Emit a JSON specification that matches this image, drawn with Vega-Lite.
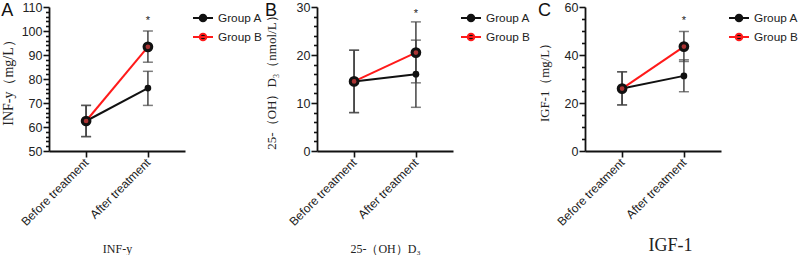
{
  "$schema": "https://vega.github.io/schema/vega-lite/v6.json",
  "padding": {"left": 1, "top": 1, "right": 0, "bottom": 0},
  "background": "white",
  "config": {
    "view": {"stroke": null},
    "axis": {"grid": false, "ticks": true, "domainColor": "#111", "domainWidth": 1.8, "labelFont": "Liberation Sans", "labelFontSize": 12.5, "labelColor": "#222", "titleFont": "Liberation Serif", "titleFontWeight": "normal", "titleFontSize": 14, "titleColor": "#222"},
    "title": {"font": "Liberation Sans", "fontSize": 18, "fontWeight": "normal", "color": "#111", "anchor": "start", "frame": "bounds"},
    "legend": {"orient": "none", "legendX": 143, "legendY": 0, "title": null, "symbolType": "M-1,0H1M0.33,0A0.33,0.33,0,1,1,-0.33,0A0.33,0.33,0,1,1,0.33,0Z", "symbolSize": 400, "symbolStrokeWidth": 2, "labelFont": "Liberation Sans", "labelFontSize": 11.8, "labelColor": "#222", "rowPadding": 0, "labelOffset": 4}
  },
  "datasets": {
    "stats": [
      {"panel": "A", "group": "Group A", "time": "Before treatment", "mean": 62.5, "lo": 56, "hi": 69},
      {"panel": "A", "group": "Group A", "time": "After treatment", "mean": 76.2, "lo": 69, "hi": 83.2},
      {"panel": "A", "group": "Group B", "time": "Before treatment", "mean": 62.5, "lo": 56, "hi": 69},
      {"panel": "A", "group": "Group B", "time": "After treatment", "mean": 93.4, "lo": 87, "hi": 100},
      {"panel": "B", "group": "Group A", "time": "Before treatment", "mean": 14.5, "lo": 8, "hi": 21},
      {"panel": "B", "group": "Group A", "time": "After treatment", "mean": 16, "lo": 9.1, "hi": 23.1},
      {"panel": "B", "group": "Group B", "time": "Before treatment", "mean": 14.5, "lo": 8, "hi": 21},
      {"panel": "B", "group": "Group B", "time": "After treatment", "mean": 20.5, "lo": 14.2, "hi": 26.9},
      {"panel": "C", "group": "Group A", "time": "Before treatment", "mean": 26, "lo": 19.2, "hi": 33},
      {"panel": "C", "group": "Group A", "time": "After treatment", "mean": 31.3, "lo": 24.7, "hi": 38},
      {"panel": "C", "group": "Group B", "time": "Before treatment", "mean": 26, "lo": 19.2, "hi": 33},
      {"panel": "C", "group": "Group B", "time": "After treatment", "mean": 43.5, "lo": 37.3, "hi": 49.8}
    ],
    "stars": [
      {"panel": "A", "time": "After treatment", "y": 104.3, "label": "*"},
      {"panel": "B", "time": "After treatment", "y": 28.6, "label": "*"},
      {"panel": "C", "time": "After treatment", "y": 54.3, "label": "*"}
    ]
  },
  "resolve": {"scale": {"color": "independent", "y": "independent", "x": "independent"}, "legend": {"color": "independent"}},
  "bounds": "flush",
  "spacing": 132,
  "hconcat": [
    {
      "width": 136, "height": 144,
      "title": {"text": "A", "baseline": "top", "offset": -19},
      "data": {"name": "stats"},
      "transform": [{"filter": "datum.panel === 'A'"}],
      "encoding": {
        "x": {"field": "time", "type": "ordinal", "sort": ["Before treatment", "After treatment"], "scale": {"type": "point", "padding": 0.6}, "axis": {"title": "INF-y", "labelAngle": -45, "labelAlign": "right", "labelBaseline": "middle", "labelFontSize": 12, "tickSize": 6, "tickColor": "#111", "tickWidth": 1.6, "labelPadding": 3, "titlePadding": 16, "titleFontSize": 12}}
      },
      "layer": [
        {"mark": {"type": "rule", "color": "#444", "strokeWidth": 1.5}, "encoding": {"y": {"field": "lo", "type": "quantitative", "scale": {"domain": [50, 110], "zero": false, "nice": false}, "axis": {"title": "INF-y（mg/L）", "tickCount": 30, "labelOverlap": false, "labelExpr": "datum.value % 10 === 0 ? datum.label : ''", "tickSize": {"condition": {"test": "datum.value % 10 === 0", "value": 6}, "value": 3.5}, "tickColor": "#111", "tickWidth": 1.6, "labelPadding": 1, "titlePadding": 6}}, "y2": {"field": "hi"}}},
        {"mark": {"type": "tick", "color": "#444", "thickness": 1.5, "size": 10}, "encoding": {"y": {"field": "lo", "type": "quantitative"}}},
        {"mark": {"type": "tick", "color": "#444", "thickness": 1.5, "size": 10}, "encoding": {"y": {"field": "hi", "type": "quantitative"}}},
        {"mark": {"type": "line", "strokeWidth": 2}, "encoding": {"y": {"field": "mean", "type": "quantitative"}, "color": {"field": "group", "type": "nominal", "scale": {"domain": ["Group A", "Group B"], "range": ["#111", "#ff1a1a"]}, "legend": {"symbolFillColor": "#111"}}}},
        {"transform": [{"filter": "datum.group === 'Group A'"}], "mark": {"type": "point", "filled": true, "color": "#111", "size": 45, "opacity": 1}, "encoding": {"y": {"field": "mean", "type": "quantitative"}}},
        {"transform": [{"filter": "datum.group === 'Group B'"}], "mark": {"type": "point", "filled": true, "fill": "#a33", "stroke": "#111", "strokeWidth": 3, "size": 60, "opacity": 1}, "encoding": {"y": {"field": "mean", "type": "quantitative"}}},
        {"data": {"name": "stars"}, "transform": [{"filter": "datum.panel === 'A'"}], "mark": {"type": "text", "fontSize": 11, "font": "Liberation Sans", "color": "#222", "baseline": "middle"}, "encoding": {"y": {"field": "y", "type": "quantitative"}, "text": {"field": "label"}}}
      ]
    },
    {
      "width": 136, "height": 144,
      "title": {"text": "B", "baseline": "top", "offset": -19},
      "data": {"name": "stats"},
      "transform": [{"filter": "datum.panel === 'B'"}],
      "encoding": {
        "x": {"field": "time", "type": "ordinal", "sort": ["Before treatment", "After treatment"], "scale": {"type": "point", "padding": 0.6}, "axis": {"title": "25-（OH）D₃", "labelAngle": -45, "labelAlign": "right", "labelBaseline": "middle", "labelFontSize": 12, "tickSize": 6, "tickColor": "#111", "tickWidth": 1.6, "labelPadding": 3, "titlePadding": 16, "titleFontSize": 12}}
      },
      "layer": [
        {"mark": {"type": "rule", "color": "#444", "strokeWidth": 1.5}, "encoding": {"y": {"field": "lo", "type": "quantitative", "scale": {"domain": [0, 30], "nice": false}, "axis": {"title": "25-（OH）D₃（nmol/L）", "titleFontSize": 13, "tickCount": 15, "labelOverlap": false, "labelExpr": "datum.value % 10 === 0 ? datum.label : ''", "tickSize": {"condition": {"test": "datum.value % 10 === 0", "value": 6}, "value": 3.5}, "tickColor": "#111", "tickWidth": 1.6, "labelPadding": 1, "titlePadding": 18}}, "y2": {"field": "hi"}}},
        {"mark": {"type": "tick", "color": "#444", "thickness": 1.5, "size": 10}, "encoding": {"y": {"field": "lo", "type": "quantitative"}}},
        {"mark": {"type": "tick", "color": "#444", "thickness": 1.5, "size": 10}, "encoding": {"y": {"field": "hi", "type": "quantitative"}}},
        {"mark": {"type": "line", "strokeWidth": 2}, "encoding": {"y": {"field": "mean", "type": "quantitative"}, "color": {"field": "group", "type": "nominal", "scale": {"domain": ["Group A", "Group B"], "range": ["#111", "#ff1a1a"]}, "legend": {"symbolFillColor": "#111"}}}},
        {"transform": [{"filter": "datum.group === 'Group A'"}], "mark": {"type": "point", "filled": true, "color": "#111", "size": 45, "opacity": 1}, "encoding": {"y": {"field": "mean", "type": "quantitative"}}},
        {"transform": [{"filter": "datum.group === 'Group B'"}], "mark": {"type": "point", "filled": true, "fill": "#a33", "stroke": "#111", "strokeWidth": 3, "size": 60, "opacity": 1}, "encoding": {"y": {"field": "mean", "type": "quantitative"}}},
        {"data": {"name": "stars"}, "transform": [{"filter": "datum.panel === 'B'"}], "mark": {"type": "text", "fontSize": 11, "font": "Liberation Sans", "color": "#222", "baseline": "middle"}, "encoding": {"y": {"field": "y", "type": "quantitative"}, "text": {"field": "label"}}}
      ]
    },
    {
      "width": 136, "height": 144,
      "title": {"text": "C", "baseline": "top", "offset": -19},
      "data": {"name": "stats"},
      "transform": [{"filter": "datum.panel === 'C'"}],
      "encoding": {
        "x": {"field": "time", "type": "ordinal", "sort": ["Before treatment", "After treatment"], "scale": {"type": "point", "padding": 0.6}, "axis": {"title": "IGF-1", "labelAngle": -45, "labelAlign": "right", "labelBaseline": "middle", "labelFontSize": 12, "tickSize": 6, "tickColor": "#111", "tickWidth": 1.6, "labelPadding": 3, "titlePadding": 9, "titleFontSize": 18, "titleX": 85}}
      },
      "layer": [
        {"mark": {"type": "rule", "color": "#444", "strokeWidth": 1.5}, "encoding": {"y": {"field": "lo", "type": "quantitative", "scale": {"domain": [0, 60], "nice": false}, "axis": {"title": "IGF-1（mg/L）", "tickCount": 15, "labelOverlap": false, "labelExpr": "datum.value % 20 === 0 ? datum.label : ''", "tickSize": {"condition": {"test": "datum.value % 20 === 0", "value": 6}, "value": 3.5}, "tickColor": "#111", "tickWidth": 1.6, "labelPadding": 1, "titlePadding": 13, "titleFontSize": 12.8}}, "y2": {"field": "hi"}}},
        {"mark": {"type": "tick", "color": "#444", "thickness": 1.5, "size": 10}, "encoding": {"y": {"field": "lo", "type": "quantitative"}}},
        {"mark": {"type": "tick", "color": "#444", "thickness": 1.5, "size": 10}, "encoding": {"y": {"field": "hi", "type": "quantitative"}}},
        {"mark": {"type": "line", "strokeWidth": 2}, "encoding": {"y": {"field": "mean", "type": "quantitative"}, "color": {"field": "group", "type": "nominal", "scale": {"domain": ["Group A", "Group B"], "range": ["#111", "#ff1a1a"]}, "legend": {"symbolFillColor": "#111"}}}},
        {"transform": [{"filter": "datum.group === 'Group A'"}], "mark": {"type": "point", "filled": true, "color": "#111", "size": 45, "opacity": 1}, "encoding": {"y": {"field": "mean", "type": "quantitative"}}},
        {"transform": [{"filter": "datum.group === 'Group B'"}], "mark": {"type": "point", "filled": true, "fill": "#a33", "stroke": "#111", "strokeWidth": 3, "size": 60, "opacity": 1}, "encoding": {"y": {"field": "mean", "type": "quantitative"}}},
        {"data": {"name": "stars"}, "transform": [{"filter": "datum.panel === 'C'"}], "mark": {"type": "text", "fontSize": 11, "font": "Liberation Sans", "color": "#222", "baseline": "middle"}, "encoding": {"y": {"field": "y", "type": "quantitative"}, "text": {"field": "label"}}}
      ]
    }
  ]
}
